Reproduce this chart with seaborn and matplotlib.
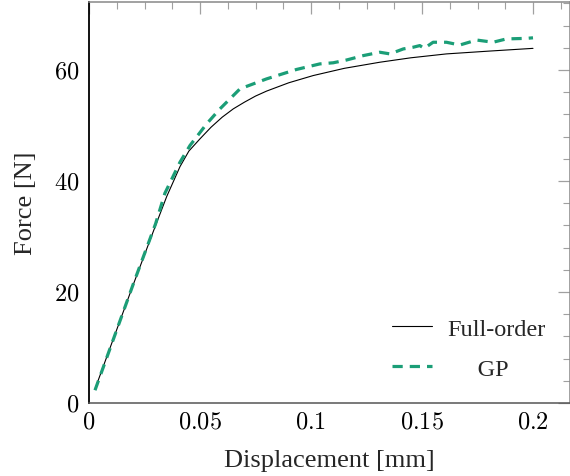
import matplotlib
matplotlib.use("Agg")
import matplotlib.pyplot as plt
import seaborn as sns
import pandas as pd
from matplotlib.ticker import FixedLocator, MultipleLocator

# ---- data ----
full_x = [0.0027, 0.01, 0.02, 0.03, 0.035, 0.041, 0.045, 0.05, 0.055, 0.06, 0.065,
          0.07, 0.075, 0.08, 0.09, 0.101, 0.115, 0.131, 0.145, 0.161, 0.18, 0.2]
full_y = [2.5, 10.5, 21.4, 32.0, 37.2, 42.6, 45.4, 47.6, 49.7, 51.5, 53.0,
          54.2, 55.3, 56.2, 57.7, 59.0, 60.3, 61.4, 62.2, 62.9, 63.4, 63.9]

gp_x = [0.0027, 0.01, 0.02, 0.03, 0.0342, 0.041, 0.0455, 0.053, 0.059, 0.0635, 0.068,
        0.080, 0.0935, 0.104, 0.110, 0.116, 0.1236, 0.131, 0.1356, 0.1416, 0.146,
        0.149, 0.151, 0.155, 0.161, 0.167, 0.1746, 0.182, 0.188, 0.197, 0.2]
gp_y = [2.3, 10.4, 21.5, 32.3, 37.8, 43.4, 46.4, 50.3, 53.0, 54.8, 56.6,
        58.4, 60.1, 61.1, 61.3, 61.8, 62.6, 63.2, 62.9, 63.8, 64.1,
        64.4, 63.9, 65.0, 65.0, 64.5, 65.4, 65.0, 65.6, 65.7, 65.8]

x_ticks = [0, 0.05, 0.1, 0.15, 0.2]
x_tick_labels = ["0", "0.05", "0.1", "0.15", "0.2"]
y_ticks = [0, 20, 40, 60]
y_tick_labels = ["0", "20", "40", "60"]

series_labels = ["Full-order", "GP"]

# ---- style ----
sns.set_theme(style="white")
plt.rcParams["font.family"] = ["Liberation Serif", "DejaVu Serif"]
plt.rcParams["mathtext.fontset"] = "cm"

FS = 17.5
FS_LABEL = 19
fig = plt.figure(figsize=(5.70, 4.77), dpi=100)
ax = fig.add_axes([89 / 570, 1 - 404 / 477, (569.5 - 89) / 570, (404 - 3) / 477])

df_full = pd.DataFrame({"x": full_x, "y": full_y})
df_gp = pd.DataFrame({"x": gp_x, "y": gp_y})

sns.lineplot(data=df_full, x="x", y="y", ax=ax, color="black", linewidth=0.8,
             label=series_labels[0], sort=False)
sns.lineplot(data=df_gp, x="x", y="y", ax=ax, color="#1b9e77", linewidth=2.3,
             label="     " + series_labels[1], sort=False, dashes=False)
ax.lines[1].set_dashes([3.2, 2.2])

ax.set_xlim(0, (569.5 - 89) / 2220)
ax.set_ylim(0, (404 - 3) / 5.55)

ax.xaxis.set_major_locator(FixedLocator(x_ticks))
ax.set_xticklabels(["$%s$" % t for t in x_tick_labels])
ax.yaxis.set_major_locator(FixedLocator(y_ticks))
ax.set_yticklabels(["$%s$" % t for t in y_tick_labels])
ax.xaxis.set_minor_locator(MultipleLocator(0.0125))
ax.yaxis.set_minor_locator(MultipleLocator(4))

ax.tick_params(which="both", direction="in", top=True, right=True, colors="#a0a0a0",
               labelcolor="black", labelsize=FS)
ax.tick_params(which="major", length=8.5, width=0.9)
ax.tick_params(which="minor", length=4.8, width=0.8)
ax.tick_params(axis="x", which="major", pad=6)
ax.tick_params(axis="y", which="major", pad=7)

ax.spines["left"].set_color("black")
ax.spines["left"].set_linewidth(1.3)
ax.spines["bottom"].set_color("#555555")
ax.spines["bottom"].set_linewidth(1.1)
ax.spines["top"].set_color("#888888")
ax.spines["top"].set_linewidth(1.1)
ax.spines["right"].set_color("#888888")
ax.spines["right"].set_linewidth(1.1)

ax.set_xlabel("Displacement [mm]", fontsize=FS_LABEL, labelpad=12)
ax.set_ylabel("Force [N]", fontsize=FS_LABEL, labelpad=12)

leg = ax.legend(loc="upper left", bbox_to_anchor=(0.631, 0.212), frameon=False,
                fontsize=FS, borderpad=0, borderaxespad=0, handlelength=1.65,
                handletextpad=0.6, labelspacing=0.72)

fig.savefig("out.png", dpi=100)
